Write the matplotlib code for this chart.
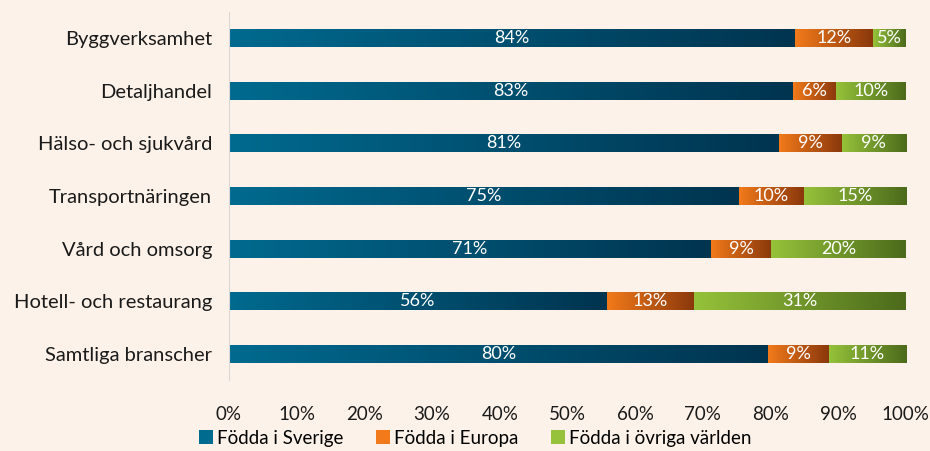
import numpy as np
import matplotlib.pyplot as plt
from matplotlib.colors import LinearSegmentedColormap
from matplotlib.patches import Patch

branscher = ['Byggverksamhet', 'Detaljhandel', 'Hälso- och sjukvård', 'Transportnäringen',
             'Vård och omsorg', 'Hotell- och restaurang', 'Samtliga branscher']
sverige = [83.7, 83.3, 81.2, 75.3, 71.2, 55.8, 79.6]
europa = [11.5, 6.4, 9.3, 9.6, 8.9, 12.9, 9.0]
ovriga = [4.8, 10.3, 9.5, 15.1, 19.9, 31.3, 11.4]
etiketter = [['84%', '83%', '81%', '75%', '71%', '56%', '80%'],
             ['12%', '6%', '9%', '10%', '9%', '13%', '9%'],
             ['5%', '10%', '9%', '15%', '20%', '31%', '11%']]
serier = ['Födda i Sverige', 'Födda i Europa', 'Födda i övriga världen']

bg = '#fdf2e9'
gradienter = [('#006a8f', '#00344f'), ('#f27a1a', '#8a380c'), ('#95c23a', '#4c6a1b')]

plt.rcParams['font.family'] = ['Lato', 'DejaVu Sans']

fig = plt.figure(figsize=(9.3, 4.51), dpi=100, facecolor=bg)
ax = fig.add_axes([0.2462, 0.1574, 0.7278, 0.816])
ax.set_facecolor(bg)

y = np.arange(len(branscher))
h = 0.34
grad = np.linspace(0, 1, 256).reshape(1, -1)
left = np.zeros(len(branscher))
for i, vals in enumerate([sverige, europa, ovriga]):
    bars = ax.barh(y, vals, height=h, left=left, color='none')
    cmap = LinearSegmentedColormap.from_list('g%d' % i, gradienter[i])
    for j, b in enumerate(bars):
        x0, w = b.get_x(), b.get_width()
        ax.imshow(grad, extent=[x0, x0 + w, b.get_y() + h, b.get_y()], cmap=cmap,
                  aspect='auto', zorder=2, interpolation='bilinear')
        ax.text(x0 + w / 2, b.get_y() + h / 2, etiketter[i][j], color='white',
                ha='center', va='center', fontsize=13, zorder=3)
    left += np.array(vals)

ax.set_xlim(0, 100)
ax.set_ylim(len(branscher) - 0.5, -0.5)
ax.set_yticks(y)
ax.set_yticklabels(branscher, fontsize=14.5, color='#1a1a1a')
ax.set_xticks(np.arange(0, 101, 10))
ax.set_xticklabels(['%d%%' % v for v in range(0, 101, 10)], fontsize=13.5, color='#1a1a1a')
ax.tick_params(axis='both', length=0)
ax.tick_params(axis='x', pad=19)
ax.tick_params(axis='y', pad=12)
for s in ['top', 'right', 'bottom']:
    ax.spines[s].set_visible(False)
ax.spines['left'].set_color('#d9d9d9')

handles = [Patch(facecolor=gradienter[i][0], edgecolor='none') for i in range(3)]
fig.legend(handles, serier, loc='lower left', bbox_to_anchor=(0.196, -0.028), ncol=3,
           frameon=False, fontsize=13.5, handlelength=0.75, handleheight=0.75,
           handletextpad=0.2, columnspacing=1.75)

fig.savefig('out.png', dpi=100, facecolor=bg)
